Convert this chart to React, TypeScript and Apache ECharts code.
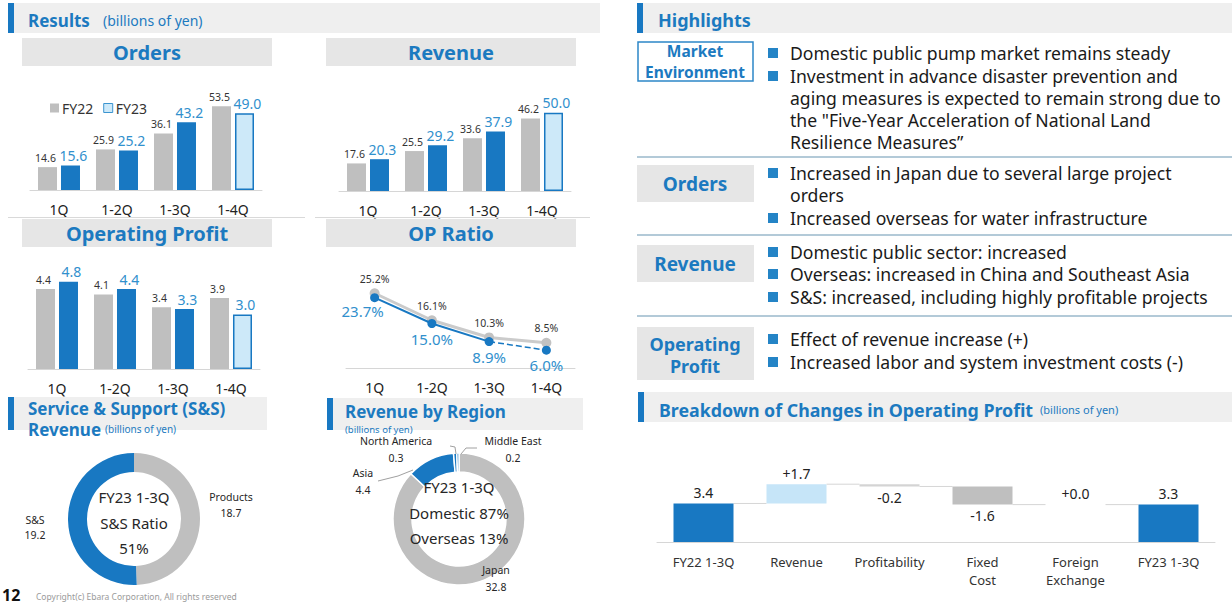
import React, { useEffect, useRef } from "react";
import * as echarts from "echarts";

// ---------- data ----------
const quarters = ["1Q", "1-2Q", "1-3Q", "1-4Q"];
const orders22 = [14.6, 25.9, 36.1, 53.5];
const orders23 = [15.6, 25.2, 43.2, 49.0];
const revenue22 = [17.6, 25.5, 33.6, 46.2];
const revenue23 = [20.3, 29.2, 37.9, 50.0];
const op22 = [4.4, 4.1, 3.4, 3.9];
const op23 = [4.8, 4.4, 3.3, 3.0];
const opRatio22 = [25.2, 16.1, 10.3, 8.5];
const opRatio23 = [23.7, 15.0, 8.9, 6.0];
const forecastIndex = 3;

const ssNames = ["Products", "S&S"];
const ssValues = [18.7, 19.2];

const regionNames = ["Japan", "Asia", "North America", "Middle East"];
const regionValues = [32.8, 4.4, 0.3, 0.2];

const bridgeCats = ["FY22 1-3Q", "Revenue", "Profitability", "Fixed\nCost", "Foreign\nExchange", "FY23 1-3Q"];
const bridgeValues = [3.4, 1.7, -0.2, -1.6, 0.0, 3.3];
const bridgeTotals = [true, false, false, false, false, true];

const highlightSections = [
  {
    label: ["Market", "Environment"],
    lines: [
      { bullet: true, text: "Domestic public pump market remains steady" },
      { bullet: true, text: "Investment in advance disaster prevention and" },
      { bullet: false, text: "aging measures is expected to remain strong due to" },
      { bullet: false, text: 'the "Five-Year Acceleration of National Land' },
      { bullet: false, text: "Resilience Measures\u201D" },
    ],
  },
  {
    label: ["Orders"],
    lines: [
      { bullet: true, text: "Increased in Japan due to several large project" },
      { bullet: false, text: "orders" },
      { bullet: true, text: "Increased overseas for water infrastructure" },
    ],
  },
  {
    label: ["Revenue"],
    lines: [
      { bullet: true, text: "Domestic public sector: increased" },
      { bullet: true, text: "Overseas: increased in China and Southeast Asia" },
      { bullet: true, text: "S&S: increased, including highly profitable projects" },
    ],
  },
  {
    label: ["Operating", "Profit"],
    lines: [
      { bullet: true, text: "Effect of revenue increase (+)" },
      { bullet: true, text: "Increased labor and system investment costs (-)" },
    ],
  },
];

// ---------- styles ----------
const FONT = "'Noto Sans', 'DejaVu Sans', sans-serif";
const BLUE = "#1878c2";
const BLUE_TXT = "#1c7ac0";
const LBLUE_TXT = "#3190cd";
const GRAY_BAR = "#bfbfbf";
const LIGHT_FILL = "#cde9f9";
const HEADER_BG = "#efefef";
const SUB_BG = "#e6e6e6";
const DARK = "#262626";

function txt(x: number, y: number, text: string, o: any = {}) {
  const align = o.align || "left";
  const valign = o.valign || "middle";
  const size = o.size || 14;
  return {
    type: "text",
    x,
    y,
    silent: true,
    z: 10,
    style: {
      text,
      fill: o.color || DARK,
      fontSize: size,
      fontWeight: o.weight || "normal",
      fontFamily: FONT,
      lineHeight: Math.round(size * 1.1),
      align,
      verticalAlign: valign,
      textAlign: align,
      textVerticalAlign: valign,
    },
  };
}
function rect(x: number, y: number, w: number, h: number, style: any) {
  return { type: "rect", silent: true, z: 1, shape: { x, y, width: w, height: h }, style };
}
function line(x1: number, y1: number, x2: number, y2: number, stroke: string, lw = 1) {
  return { type: "line", silent: true, z: 2, shape: { x1, y1, x2, y2 }, style: { stroke, lineWidth: lw } };
}

function barPair(gi: number, d22: number[], d23: number[]) {
  return [
    {
      type: "bar",
      name: "FY22",
      xAxisIndex: gi,
      yAxisIndex: gi,
      data: d22,
      barWidth: 19,
      barGap: "21%",
      itemStyle: { color: GRAY_BAR },
      label: { show: true, position: "top", distance: 4, offset: [-2, 0], fontSize: 10.5, color: "#333", fontFamily: FONT, formatter: (p: any) => p.value.toFixed(1) },
    },
    {
      type: "bar",
      name: "FY23",
      xAxisIndex: gi,
      yAxisIndex: gi,
      data: d23.map((v, i) =>
        i === forecastIndex ? { value: v, itemStyle: { color: LIGHT_FILL, borderColor: BLUE, borderWidth: 1.5 } } : v
      ),
      barWidth: 19,
      barGap: "21%",
      itemStyle: { color: BLUE },
      label: { show: true, position: "top", distance: 3, offset: [3, 0], fontSize: 14, color: LBLUE_TXT, fontFamily: FONT, formatter: (p: any) => p.value.toFixed(1) },
    },
  ];
}

function catAxis(gi: number, data: string[], extra: any = {}) {
  return {
    type: "category",
    gridIndex: gi,
    data,
    axisTick: { show: false },
    axisLine: { lineStyle: { color: "#d6d6d6", width: 1 } },
    axisLabel: { fontSize: 14, color: "#222", margin: 12, fontFamily: FONT, ...(extra.axisLabel || {}) },
  };
}
function valAxis(gi: number, max: number) {
  return { type: "value", gridIndex: gi, min: 0, max, show: false, splitLine: { show: false } };
}

export default function App() {
  const ref = useRef<HTMLDivElement>(null);

  useEffect(() => {
    if (!ref.current) return;
    const chart = echarts.init(ref.current, undefined, { renderer: "svg" });

    // waterfall geometry from data
    const bases: number[] = [];
    const heights: number[] = [];
    const levels: number[] = [];
    let run = 0;
    bridgeValues.forEach((v, i) => {
      if (bridgeTotals[i]) {
        bases.push(0);
        heights.push(v);
        run = v;
      } else {
        const next = run + v;
        bases.push(Math.min(run, next));
        heights.push(Math.abs(v));
        run = next;
      }
      levels.push(run);
    });

    const ssTotal = ssValues.reduce((a, b) => a + b, 0);
    const ssRatio = Math.round((ssValues[1] / ssTotal) * 100);
    const regTotal = regionValues.reduce((a, b) => a + b, 0);
    const domPct = Math.round((regionValues[0] / regTotal) * 100);
    const ovsPct = 100 - domPct;

    const graphics: any[] = [];
    // Section headers
    const headers = [
      { x: 8, y: 3, w: 592, h: 30 },
      { x: 637, y: 3, w: 595, h: 30 },
      { x: 8, y: 397, w: 259, h: 33 },
      { x: 327, y: 398, w: 256, h: 32 },
      { x: 638, y: 392, w: 594, h: 30 },
    ];
    headers.forEach((h) => {
      graphics.push(rect(h.x, h.y, h.w, h.h, { fill: HEADER_BG }));
      graphics.push(rect(h.x, h.y, 6, h.h, { fill: BLUE }));
    });
    graphics.push(txt(28, 20, "Results", { size: 17, weight: "bold", color: BLUE_TXT }));
    graphics.push(txt(103, 20, "(billions of yen)", { size: 14, color: BLUE_TXT }));
    graphics.push(txt(658, 20, "Highlights", { size: 18, weight: "bold", color: BLUE_TXT }));
    graphics.push(txt(28, 408, "Service & Support (S&S)", { size: 17, weight: "bold", color: BLUE_TXT }));
    graphics.push(txt(28, 429, "Revenue", { size: 17, weight: "bold", color: BLUE_TXT }));
    graphics.push(txt(105, 429, "(billions of yen)", { size: 10, color: BLUE_TXT }));
    graphics.push(txt(345, 411, "Revenue by Region", { size: 17, weight: "bold", color: BLUE_TXT }));
    graphics.push(txt(345, 429, "(billions of yen)", { size: 9.5, color: BLUE_TXT }));
    graphics.push(txt(659, 410, "Breakdown of Changes in Operating Profit", { size: 17.8, weight: "bold", color: BLUE_TXT }));
    graphics.push(txt(1040, 409, "(billions of yen)", { size: 11, color: BLUE_TXT }));

    // Sub headers
    const subs = [
      { x: 22, y: 38, t: "Orders" },
      { x: 326, y: 38, t: "Revenue" },
      { x: 22, y: 219, t: "Operating Profit" },
      { x: 326, y: 219, t: "OP Ratio" },
    ];
    subs.forEach((s) => {
      graphics.push(rect(s.x, s.y, 250, 28, { fill: SUB_BG }));
      graphics.push(txt(s.x + 125, s.y + 14, s.t, { size: 20, weight: "bold", color: BLUE_TXT, align: "center" }));
    });
    graphics.push(line(8, 217.5, 305, 217.5, "#d9d9d9", 1));
    graphics.push(line(315, 217.5, 590, 217.5, "#d9d9d9", 1));

    // Highlights
    const boxY = [
      { y: 42, h: 39 },
      { y: 165, h: 37 },
      { y: 245, h: 37 },
      { y: 327, h: 53 },
    ];
    const labelYs = [[50.5, 72], [184], [264], [344, 366]];
    const lineYs = [[53, 76, 98, 120, 142], [173, 195, 218], [252, 274, 297], [339, 362]];
    const sepYs = [157, 235, 316];
    highlightSections.forEach((sec, si) => {
      const b = boxY[si];
      if (si === 0) {
        graphics.push(rect(638, b.y, 115, b.h, { fill: "#fff", stroke: "#2c86c8", lineWidth: 1.5 }));
      } else {
        graphics.push(rect(637, b.y, 117, b.h, { fill: SUB_BG }));
      }
      sec.label.forEach((l, li) => {
        graphics.push(
          txt(695, labelYs[si][li], l, { size: si === 0 ? 15.5 : si === 3 ? 18 : 19, weight: "bold", color: BLUE_TXT, align: "center" })
        );
      });
      sec.lines.forEach((ln, li) => {
        const y = lineYs[si][li];
        if (ln.bullet) graphics.push(rect(768, y - 5, 10, 10, { fill: "#2484c6" }));
        graphics.push(txt(790, y, ln.text, { size: 17.6, color: "#1a1a1a" }));
      });
    });
    sepYs.forEach((y) => graphics.push(line(637, y, 1232, y, "#b3cad8", 2)));

    // S&S donut texts
    graphics.push(txt(134, 497, "FY23 1-3Q", { size: 15, align: "center" }));
    graphics.push(txt(134, 523, "S&S Ratio", { size: 15, align: "center" }));
    graphics.push(txt(134, 548, `${ssRatio}%`, { size: 15, align: "center" }));
    graphics.push(txt(35, 520, ssNames[1], { size: 10.5, align: "center" }));
    graphics.push(txt(35, 535, ssValues[1].toFixed(1), { size: 10.5, align: "center" }));
    graphics.push(txt(231, 497, ssNames[0], { size: 10.5, align: "center" }));
    graphics.push(txt(231, 513, ssValues[0].toFixed(1), { size: 10.5, align: "center" }));

    // Region donut texts
    graphics.push(txt(459, 487, "FY23 1-3Q", { size: 15, align: "center" }));
    graphics.push(txt(459, 513, `Domestic ${domPct}%`, { size: 15, align: "center" }));
    graphics.push(txt(459, 538, `Overseas ${ovsPct}%`, { size: 15, align: "center" }));
    const regLabelPos = [
      { x: 496, y: 570 },
      { x: 363, y: 473 },
      { x: 396, y: 441 },
      { x: 513, y: 441 },
    ];
    regionNames.forEach((n, i) => {
      const p = regLabelPos[i];
      graphics.push(txt(p.x, p.y, n, { size: 10.5, align: "center" }));
      graphics.push(txt(p.x, p.y + 17, regionValues[i].toFixed(1), { size: 10.5, align: "center" }));
    });
    graphics.push({ type: "polyline", silent: true, z: 3, shape: { points: [[378, 481], [398, 476], [413, 470]] }, style: { stroke: "#a0a0a0", lineWidth: 1, fill: "none" } });
    graphics.push({ type: "polyline", silent: true, z: 3, shape: { points: [[450, 446], [455, 447], [456, 454]] }, style: { stroke: "#a0a0a0", lineWidth: 1, fill: "none" } });
    graphics.push({ type: "polyline", silent: true, z: 3, shape: { points: [[461, 454], [466, 448], [477, 448]] }, style: { stroke: "#a0a0a0", lineWidth: 1, fill: "none" } });

    // footer
    graphics.push(txt(2, 595, "12", { size: 16, weight: "bold", color: "#111" }));
    graphics.push(txt(36, 596, "Copyright(c) Ebara Corporation, All rights reserved", { size: 8.5, color: "#9a9a9a" }));

    const grids = [
      { left: 30, top: 96, width: 232, height: 94 },
      { left: 339, top: 97, width: 232, height: 94 },
      { left: 28, top: 269, width: 232, height: 100 },
      { left: 346, top: 279, width: 229, height: 89 },
      { left: 657, top: 474, width: 558, height: 68 },
    ].map((g) => ({ ...g, containLabel: false, outerBoundsMode: "none" }));

    const option: any = {
      animation: false,
      backgroundColor: "#ffffff",
      textStyle: { fontFamily: FONT },
      grid: grids,
      legend: {
        left: 45,
        top: 96,
        itemWidth: 9,
        itemHeight: 9,
        itemGap: 10,
        icon: "rect",
        selectedMode: false,
        textStyle: { fontSize: 14, color: "#333", fontFamily: FONT, padding: [0, 0, 0, -2] },
        data: [
          { name: "FY22", itemStyle: { color: GRAY_BAR } },
          { name: "FY23", itemStyle: { color: LIGHT_FILL, borderColor: "#3b95d0", borderWidth: 1 } },
        ],
      },
      xAxis: [
        catAxis(0, quarters),
        catAxis(1, quarters),
        catAxis(2, quarters),
        catAxis(3, quarters),
        catAxis(4, bridgeCats, { axisLabel: { fontSize: 13, color: "#333", lineHeight: 18, margin: 11 } }),
      ],
      yAxis: [valAxis(0, 60), valAxis(1, 60), valAxis(2, 5.5), valAxis(3, 30), valAxis(4, 6)],
      series: [
        ...barPair(0, orders22, orders23),
        ...barPair(1, revenue22, revenue23),
        ...barPair(2, op22, op23),
        {
          type: "line",
          name: "FY22 ratio",
          xAxisIndex: 3,
          yAxisIndex: 3,
          data: opRatio22,
          symbol: "circle",
          symbolSize: 10,
          lineStyle: { color: "#cbcbcb", width: 3 },
          itemStyle: { color: "#c2c2c2" },
          label: { show: true, position: "top", distance: 4, fontSize: 10.5, color: "#333", fontFamily: FONT, formatter: (p: any) => p.value.toFixed(1) + "%" },
          z: 2,
        },
        {
          type: "line",
          name: "FY23 ratio",
          xAxisIndex: 3,
          yAxisIndex: 3,
          data: opRatio23.map((v, i) =>
            i < forecastIndex ? (i === 0 ? { value: v, label: { offset: [-12, -2] } } : v) : null
          ),
          symbol: "circle",
          symbolSize: 9,
          lineStyle: { color: BLUE, width: 2 },
          itemStyle: { color: BLUE },
          label: { show: true, position: "bottom", distance: 3, fontSize: 15, color: LBLUE_TXT, fontFamily: FONT, formatter: (p: any) => p.value.toFixed(1) + "%" },
          z: 3,
        },
        {
          type: "line",
          name: "FY23 forecast",
          xAxisIndex: 3,
          yAxisIndex: 3,
          data: opRatio23.map((v, i) =>
            i === forecastIndex - 1 ? { value: v, symbolSize: 0, label: { show: false } } : i >= forecastIndex ? v : null
          ),
          symbol: "circle",
          symbolSize: 9,
          lineStyle: { color: BLUE, width: 1.5, type: "dashed" },
          itemStyle: { color: BLUE },
          label: { show: true, position: "bottom", distance: 3, fontSize: 15, color: LBLUE_TXT, fontFamily: FONT, formatter: (p: any) => p.value.toFixed(1) + "%" },
          z: 3,
        },
        {
          type: "pie",
          center: [134, 519],
          radius: [47, 66],
          startAngle: 90,
          clockwise: true,
          silent: true,
          label: { show: false },
          labelLine: { show: false },
          data: ssNames.map((n, i) => ({ name: n, value: ssValues[i], itemStyle: { color: i === 0 ? GRAY_BAR : BLUE } })),
        },
        {
          type: "pie",
          center: [459, 519],
          radius: [47, 66],
          startAngle: 90,
          clockwise: true,
          silent: true,
          label: { show: false },
          labelLine: { show: false },
          itemStyle: { borderColor: "#fff", borderWidth: 1.5 },
          data: regionNames.map((n, i) => ({ name: n, value: regionValues[i], itemStyle: { color: i === 0 ? GRAY_BAR : BLUE } })),
        },
        {
          type: "bar",
          name: "base",
          stack: "wf",
          xAxisIndex: 4,
          yAxisIndex: 4,
          barWidth: 60,
          silent: true,
          itemStyle: { color: "rgba(0,0,0,0)" },
          data: bases,
        },
        {
          type: "bar",
          name: "delta",
          stack: "wf",
          xAxisIndex: 4,
          yAxisIndex: 4,
          barWidth: 60,
          data: heights.map((h, i) => ({
            value: h,
            itemStyle: { color: bridgeTotals[i] ? BLUE : bridgeValues[i] > 0 ? "#c6e5f8" : bridgeValues[i] < 0 ? (i === 2 ? "#d4d4d4" : GRAY_BAR) : "rgba(0,0,0,0)" },
            label: { position: bridgeValues[i] < 0 && !bridgeTotals[i] ? "bottom" : "top" },
          })),
          label: {
            show: true,
            distance: 4,
            fontSize: 14,
            color: "#222",
            fontFamily: FONT,
            formatter: (p: any) => {
              const v = bridgeValues[p.dataIndex];
              if (bridgeTotals[p.dataIndex]) return v.toFixed(1);
              return (v >= 0 ? "+" : "") + v.toFixed(1);
            },
          },
        },
        {
          type: "custom",
          name: "connectors",
          xAxisIndex: 4,
          yAxisIndex: 4,
          silent: true,
          z: 1,
          data: levels.slice(0, levels.length - 1).map((l, i) => [i, l]),
          renderItem: (params: any, api: any) => {
            const p = api.coord([api.value(0), api.value(1)]);
            const band = api.size([1, 0])[0];
            return {
              type: "line",
              shape: { x1: p[0] + 30, y1: p[1], x2: p[0] + band - 30, y2: p[1] },
              style: { stroke: "#d6d6d6", lineWidth: 1 },
            };
          },
        },
      ],
      graphic: graphics,
    };

    chart.setOption(option);
    return () => chart.dispose();
  }, []);

  return (
    <div
      ref={ref}
      style={{ position: "fixed", left: 0, top: 0, width: 1232, height: 606, background: "#fff" }}
    />
  );
}
